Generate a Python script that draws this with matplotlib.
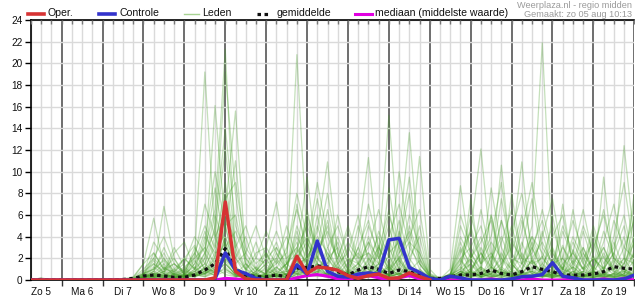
import numpy as np
import pandas as pd
import matplotlib
matplotlib.use("Agg")
import matplotlib.pyplot as plt
import matplotlib.dates as mdates
from matplotlib.ticker import FuncFormatter
from matplotlib.lines import Line2D

plt.rcParams['font.family'] = ['Liberation Sans', 'DejaVu Sans']

# ---------------- data ----------------
start_time = "2018-08-05 06:00"
n_steps = 60
step = "6h"
day_labels = ["Zo 5", "Ma 6", "Di 7", "Wo 8", "Do 9", "Vr 10", "Za 11", "Zo 12",
              "Ma 13", "Di 14", "Wo 15", "Do 16", "Vr 17", "Za 18", "Zo 19"]
y_ticks = [0, 2, 4, 6, 8, 10, 12, 14, 16, 18, 20, 22, 24]

oper = [0, 0, 0, 0, 0, 0, 0, 0, 0, 0,
        0, 0, 0, 0, 0, 0, 0, 0, 0.2, 7.2,
        0.8, 0.1, 0, 0, 0, 0, 2.2, 0.6, 1.2, 1.1,
        0.9, 0.4, 0.15, 0.4, 0.55, 0.15, 0.2, 0.65, 0.3, 0.0]

controle = [0, 0, 0, 0, 0, 0, 0, 0, 0, 0,
            0, 0, 0, 0, 0, 0, 0, 0, 0.1, 2.5,
            0.9, 0.6, 0.15, 0, 0, 0, 1.4, 0.55, 3.6, 0.8,
            0.35, 0.25, 0.55, 0.65, 0.55, 3.7, 3.85, 1.15, 0.7, 0.15,
            0, 0.35, 0.2, 0, 0, 0, 0, 0.1, 0.3, 0.35,
            0.5, 1.6, 0.35, 0.2, 0, 0, 0, 0, 0.1, 0.45]

gemiddelde = [0, 0.05, 0, 0, 0, 0, 0, 0, 0, 0.05,
              0.15, 0.37, 0.46, 0.37, 0.25, 0.25, 0.46, 0.92, 1.5, 2.9,
              1.0, 0.46, 0.3, 0.3, 0.46, 0.3, 1.08, 1.17, 1.3, 1.2,
              0.77, 0.46, 0.92, 1.23, 0.98, 0.6, 0.92, 0.77, 0.46, 0.15,
              0.15, 0.3, 0.46, 0.46, 0.6, 0.92, 0.6, 0.46, 0.77, 1.23,
              0.98, 0.77, 0.46, 0.46, 0.46, 0.55, 0.77, 1.23, 1.08, 1.0]

mediaan = [0, 0, 0, 0, 0, 0, 0, 0, 0, 0,
           0, 0, 0, 0, 0, 0, 0, 0, 0, 0.15,
           0.1, 0, 0, 0, 0, 0, 0.2, 0.4, 0.5, 0.35,
           0.1, 0, 0.35, 0.4, 0.2, 0, 0.2, 0.4, 0.1, 0,
           0, 0, 0, 0, 0, 0.1, 0, 0, 0, 0.1,
           0, 0, 0, 0.1, 0, 0, 0.1, 0, 0.15, 0]

leden = [
    [0, 0, 0, 0, 0, 0, 0, 0, 0, 0,
     0, 0.3, 1.2, 0.5, 0.2, 0.4, 1.5, 3.0, 6.5, 21.3,
     2.0, 0.5, 0, 0.3, 1.2, 0.4, 2.5, 4.0, 1.5, 0.8,
     0.2, 0, 1.0, 2.5, 0.6, 0.3, 1.8, 0.5, 0.2, 0,
     0, 0, 0.5, 1.5, 0.3, 2.2, 0.8, 0.4, 1.0, 3.5,
     1.2, 0.3, 0.1, 0.5, 2.0, 0.6, 0.3, 1.5, 4.0, 0.8],
    [0, 0, 0, 0, 0, 0, 0, 0, 0, 0.1,
     0.3, 1.5, 2.5, 1.0, 0.4, 0.8, 2.2, 19.2, 4.0, 1.5,
     0.5, 0.2, 0.8, 2.0, 0.4, 0, 0.6, 5.5, 2.8, 1.2,
     0.3, 0.8, 3.0, 1.0, 0.2, 0.5, 4.5, 1.5, 0.3, 0.1,
     0, 0.2, 1.8, 0.6, 3.0, 1.2, 0.4, 0.2, 0.6, 1.8,
     0.5, 2.8, 0.8, 0.2, 0.1, 0.6, 2.5, 0.8, 0.3, 1.2],
    [0, 0.1, 0, 0, 0, 0, 0, 0, 0, 0,
     0, 0.2, 0.8, 2.0, 0.6, 0.3, 1.0, 2.5, 4.5, 19.2,
     8.0, 1.0, 0.3, 0, 0.5, 1.5, 3.5, 1.0, 6.0, 2.0,
     0.8, 0.3, 0.5, 1.8, 4.0, 1.2, 0.4, 2.0, 0.6, 0.2,
     0, 0.4, 0.2, 0.8, 0.3, 1.0, 5.5, 1.5, 0.5, 0.2,
     1.0, 0.4, 3.2, 0.8, 0.3, 0.1, 0.4, 1.8, 0.6, 2.5],
    [0, 0, 0, 0, 0, 0, 0, 0, 0, 0,
     0.1, 0.5, 0.3, 0.8, 1.5, 0.5, 0.3, 2.0, 16.1, 5.0,
     1.2, 0.4, 0.2, 0.6, 2.5, 0.8, 1.0, 2.2, 3.5, 0.6,
     0.2, 0.6, 1.5, 0.4, 2.8, 6.5, 1.8, 0.6, 0.3, 0,
     0, 0, 0.3, 2.5, 0.8, 0.3, 1.2, 4.0, 1.5, 0.6,
     0.3, 0.8, 0.4, 1.5, 0.6, 0.2, 0.5, 0.3, 1.0, 0.4],
    [0, 0, 0, 0, 0, 0, 0, 0, 0, 0,
     0, 0.2, 0.6, 0.3, 0.2, 0.6, 0.4, 1.2, 3.0, 6.5,
     15.6, 2.0, 0.6, 0.2, 0.4, 1.0, 4.5, 1.5, 0.5, 3.0,
     1.0, 0.3, 0.2, 0.6, 1.5, 0.4, 3.2, 8.0, 1.5, 0.2,
     0, 0.1, 0.6, 0.2, 0.5, 1.5, 0.4, 0.8, 2.5, 0.7,
     4.5, 1.0, 0.3, 0.1, 0.8, 2.0, 0.5, 0.2, 0.4, 0.6],
    [0, 0, 0, 0, 0, 0, 0, 0, 0, 0,
     0, 0.4, 1.8, 0.6, 0.3, 0.2, 0.8, 1.5, 4.0, 12.2,
     3.0, 0.8, 0.4, 1.2, 0.5, 0.2, 1.8, 0.6, 2.5, 5.0,
     1.2, 0.5, 0.8, 0.3, 1.0, 2.2, 0.6, 1.4, 0.4, 0.1,
     0.1, 0.3, 1.2, 0.4, 0.2, 0.8, 2.0, 0.5, 0.3, 1.0,
     2.2, 0.6, 0.3, 2.8, 1.0, 0.4, 0.2, 0.6, 1.5, 3.5],
    [0, 0, 0, 0, 0, 0, 0, 0, 0, 0,
     0, 0.1, 0.4, 1.2, 0.5, 0.3, 1.0, 0.6, 2.2, 4.5,
     11.0, 1.5, 0.3, 0.6, 1.8, 0.4, 0.2, 3.0, 1.0, 0.4,
     2.0, 0.6, 0.3, 1.5, 0.5, 3.8, 1.0, 0.3, 0.6, 0.1,
     0, 0.2, 0.8, 1.5, 0.6, 0.2, 0.5, 1.8, 0.6, 0.3,
     0.8, 0.3, 1.2, 0.5, 0.2, 1.0, 3.0, 0.8, 0.4, 0.2],
    [0, 0, 0, 0, 0, 0, 0, 0, 0, 0,
     0, 0.3, 0.5, 0.2, 0.6, 1.2, 0.4, 0.8, 1.5, 5.0,
     1.0, 0.3, 0.8, 2.5, 0.6, 1.5, 20.8, 3.5, 1.2, 0.5,
     0.3, 1.0, 0.4, 0.2, 0.8, 0.5, 1.2, 0.4, 0.2, 0,
     0, 0.3, 2.0, 0.5, 1.2, 0.4, 0.2, 0.6, 0.3, 0.8,
     0.3, 0.6, 2.0, 0.5, 0.2, 0.8, 0.3, 0.1, 0.6, 1.8],
    [0, 0, 0, 0, 0, 0, 0, 0, 0, 0,
     0, 0.2, 0.6, 1.5, 0.4, 0.2, 0.3, 0.8, 2.5, 3.0,
     0.6, 0.2, 0.4, 0.3, 0.8, 0.5, 1.5, 2.0, 4.5, 10.9,
     2.5, 0.6, 1.2, 3.5, 0.8, 0.4, 1.5, 0.5, 0.2, 0,
     0, 0.1, 0.4, 0.2, 1.0, 0.5, 2.5, 0.8, 0.3, 1.2,
     0.6, 1.5, 0.4, 0.2, 3.0, 0.8, 0.4, 0.2, 0.6, 0.3],
    [0, 0, 0, 0, 0, 0, 0, 0, 0, 0,
     0.2, 0.6, 0.3, 0.5, 0.2, 0.4, 0.6, 1.0, 0.8, 4.0,
     1.2, 0.5, 0.2, 0.4, 0.6, 0.3, 2.8, 1.5, 0.8, 2.0,
     0.6, 0.3, 4.0, 11.3, 2.0, 0.8, 0.4, 1.2, 0.6, 0.2,
     0.1, 0.5, 0.2, 0.8, 2.5, 0.6, 0.3, 1.5, 0.4, 0.2,
     0.5, 0.2, 0.6, 1.8, 0.5, 0.3, 1.0, 2.5, 0.8, 0.4],
    [0, 0, 0, 0, 0, 0, 0, 0, 0, 0,
     0, 0, 0.3, 0.6, 0.2, 0.5, 1.8, 0.6, 1.2, 2.5,
     0.8, 0.3, 0.6, 1.5, 0.4, 0.2, 1.0, 6.5, 2.0, 0.6,
     0.3, 0.8, 1.5, 0.6, 2.5, 15.2, 3.0, 0.8, 0.4, 0.1,
     0, 0.2, 0.6, 1.0, 0.3, 0.5, 0.2, 0.8, 3.5, 1.0,
     0.4, 0.2, 0.5, 0.3, 1.2, 0.4, 0.2, 0.6, 2.0, 0.5],
    [0, 0, 0, 0, 0, 0, 0, 0, 0, 0,
     0, 0.1, 0.2, 0.4, 0.8, 0.3, 0.6, 2.5, 0.8, 1.5,
     0.5, 1.5, 0.4, 0.2, 0.6, 0.8, 1.2, 0.4, 2.2, 0.8,
     0.4, 1.6, 0.5, 2.0, 0.6, 1.2, 4.0, 13.6, 2.5, 0.3,
     0.1, 0.3, 0.5, 2.0, 0.4, 0.8, 0.3, 0.2, 0.6, 1.8,
     0.6, 0.3, 1.5, 0.4, 0.2, 2.2, 0.6, 0.3, 0.5, 1.0],
    [0, 0, 0, 0, 0, 0, 0, 0, 0, 0,
     0.1, 0.3, 0.8, 0.3, 0.5, 1.0, 0.3, 0.6, 1.8, 3.5,
     0.8, 0.4, 1.2, 0.5, 0.3, 0.6, 0.8, 2.0, 0.6, 1.5,
     3.5, 0.8, 0.3, 0.6, 1.5, 0.4, 0.8, 2.5, 11.4, 1.0,
     0, 0.2, 0.8, 0.3, 0.6, 0.2, 1.0, 0.4, 0.2, 0.5,
     1.5, 0.5, 0.2, 0.8, 0.3, 1.2, 0.4, 0.2, 0.8, 0.3],
    [0, 0, 0, 0, 0, 0, 0, 0, 0, 0,
     0, 0.2, 0.5, 0.2, 0.3, 0.6, 1.2, 0.5, 1.0, 2.2,
     0.6, 0.3, 0.5, 1.0, 0.3, 0.5, 0.6, 1.2, 3.0, 0.8,
     0.4, 0.2, 1.0, 0.5, 3.2, 0.8, 2.0, 0.6, 0.4, 0.1,
     0, 0.3, 1.5, 4.5, 12.1, 2.5, 0.8, 0.3, 0.6, 0.4,
     1.0, 0.4, 0.2, 0.5, 0.3, 0.8, 2.2, 0.6, 0.3, 0.5],
    [0, 0, 0, 0, 0, 0, 0, 0, 0, 0,
     0, 0.4, 0.2, 0.6, 0.3, 0.2, 0.5, 0.8, 2.0, 1.0,
     0.4, 0.2, 0.3, 0.6, 3.0, 1.0, 0.5, 0.8, 1.5, 0.4,
     1.2, 0.5, 0.3, 0.8, 0.4, 1.5, 0.6, 0.3, 1.0, 0.2,
     0.2, 0.5, 0.3, 1.0, 2.5, 1.2, 10.6, 1.5, 0.4, 0.2,
     0.6, 1.8, 0.5, 0.2, 0.4, 0.2, 0.8, 3.5, 1.0, 0.4],
    [0, 0, 0, 0, 0, 0, 0, 0, 0, 0,
     0, 0.1, 0.3, 0.8, 0.2, 0.4, 0.8, 1.5, 0.6, 2.8,
     0.5, 0.2, 0.4, 0.3, 0.5, 0.2, 1.2, 0.4, 0.6, 2.5,
     0.8, 0.3, 0.6, 0.2, 1.0, 0.5, 0.3, 0.8, 1.8, 0.3,
     0.1, 0.4, 2.8, 0.8, 0.3, 0.6, 1.5, 3.0, 10.9, 1.5,
     0.4, 0.2, 0.6, 1.2, 0.4, 0.2, 0.5, 1.0, 0.4, 6.0],
    [0, 0, 0, 0, 0, 0, 0, 0, 0, 0,
     0, 0.2, 0.4, 0.2, 0.6, 0.3, 0.4, 0.6, 1.2, 0.5,
     0.3, 0.6, 0.2, 0.5, 1.2, 0.4, 0.3, 1.0, 0.5, 0.3,
     0.6, 0.2, 0.4, 1.2, 0.5, 0.3, 0.6, 0.4, 0.8, 0.1,
     0, 0.2, 0.5, 0.3, 1.2, 0.5, 0.8, 0.3, 1.5, 5.0,
     21.9, 2.5, 0.6, 0.3, 0.8, 0.4, 1.2, 0.5, 0.3, 0.6],
    [0, 0, 0, 0, 0, 0, 0, 0, 0, 0,
     0, 0, 0.2, 0.4, 0.2, 0.3, 0.6, 0.4, 0.8, 1.8,
     0.4, 0.2, 0.5, 0.2, 0.4, 0.8, 0.3, 0.6, 1.5, 0.4,
     0.2, 0.5, 0.8, 0.3, 0.6, 1.2, 0.4, 0.6, 0.3, 0,
     0, 0.1, 0.4, 0.8, 0.3, 1.2, 0.5, 0.3, 0.6, 0.8,
     0.4, 0.3, 1.0, 0.6, 2.5, 0.8, 0.5, 2.0, 12.4, 3.5],
    [0, 0.2, 0, 0, 0, 0, 0, 0, 0, 0,
     0.2, 1.5, 5.7, 1.2, 0.5, 0.3, 0.8, 0.5, 1.5, 3.5,
     0.6, 0.3, 0.2, 0.5, 0.3, 0.6, 1.0, 0.4, 0.8, 0.3,
     0.5, 0.2, 0.6, 0.3, 1.0, 0.4, 0.2, 0.8, 0.5, 0.1,
     0, 0.2, 0.6, 0.3, 0.8, 6.0, 1.2, 0.5, 0.3, 0.6,
     0.3, 0.8, 0.4, 1.2, 0.5, 0.3, 0.6, 0.4, 0.2, 0.5],
    [0, 0, 0, 0, 0, 0, 0, 0, 0, 0,
     0.1, 0.6, 1.0, 6.8, 2.0, 0.5, 0.3, 1.2, 0.6, 2.0,
     0.8, 0.3, 0.5, 0.2, 0.4, 0.3, 0.8, 1.5, 0.5, 0.6,
     0.3, 0.6, 0.2, 0.5, 0.8, 0.3, 0.6, 1.0, 0.3, 0,
     0, 0.3, 0.8, 0.5, 0.2, 0.6, 1.0, 0.4, 0.8, 3.0,
     0.8, 0.3, 0.5, 0.2, 0.6, 4.5, 0.8, 0.3, 0.2, 0.4],
    [0, 0, 0, 0, 0, 0, 0, 0, 0, 0,
     0, 0.3, 0.6, 0.4, 1.0, 2.0, 3.2, 0.8, 0.4, 1.2,
     0.3, 0.8, 2.5, 3.0, 7.2, 1.5, 0.6, 0.3, 0.8, 0.5,
     1.5, 0.4, 0.3, 0.8, 0.3, 0.5, 2.2, 0.6, 0.3, 0.1,
     0, 0.1, 0.3, 0.6, 0.3, 0.2, 0.5, 0.3, 0.8, 0.4,
     0.2, 0.5, 0.3, 0.8, 0.4, 0.2, 0.6, 0.3, 1.0, 0.5],
    [0, 0, 0, 0, 0, 0, 0, 0, 0, 0,
     0, 0.2, 0.4, 0.8, 0.5, 0.3, 0.6, 1.0, 0.4, 0.8,
     0.3, 0.5, 0.2, 0.4, 0.2, 0.5, 0.6, 0.3, 0.5, 0.2,
     0.8, 2.0, 0.6, 0.4, 0.3, 0.6, 0.2, 0.5, 0.8, 0.2,
     0.1, 1.0, 8.7, 2.0, 0.6, 0.3, 0.5, 0.8, 0.3, 2.0,
     0.5, 0.3, 0.8, 6.5, 1.5, 0.5, 0.3, 0.6, 0.4, 0.8],
    [0, 0, 0, 0, 0, 0, 0, 0, 0, 0,
     0, 0, 0.2, 0.3, 0.2, 0.5, 0.3, 0.6, 1.0, 2.0,
     0.8, 0.3, 0.2, 0.5, 0.3, 0.2, 0.5, 1.0, 0.4, 0.3,
     0.2, 0.6, 0.3, 0.5, 0.6, 1.0, 0.5, 0.3, 0.2, 0,
     0, 0.2, 0.5, 0.8, 0.3, 1.2, 0.6, 8.0, 2.0, 0.5,
     0.3, 0.6, 0.2, 0.4, 0.8, 0.3, 9.5, 1.2, 0.4, 0.3],
    [0, 0, 0, 0, 0, 0, 0, 0, 0, 0,
     0, 0.1, 0.3, 0.2, 0.4, 0.2, 0.5, 0.3, 0.6, 1.0,
     0.4, 0.2, 0.3, 0.8, 0.5, 0.3, 0.8, 0.5, 0.3, 0.6,
     0.3, 0.2, 0.5, 1.0, 0.4, 0.3, 0.6, 0.3, 0.8, 0.2,
     0.1, 0.6, 0.3, 7.5, 1.0, 0.4, 0.6, 0.3, 0.5, 0.8,
     0.3, 6.0, 1.0, 0.4, 0.3, 0.6, 0.2, 0.4, 1.5, 8.0],
    [0, 0, 0, 0, 0, 0, 0, 0, 0, 0,
     0, 0.2, 0.6, 0.4, 0.3, 0.8, 0.5, 0.3, 0.8, 1.5,
     0.5, 0.3, 0.6, 0.2, 0.4, 0.6, 2.0, 0.8, 1.0, 0.5,
     0.4, 0.8, 0.3, 0.6, 1.2, 0.4, 0.6, 0.3, 0.5, 0,
     0, 0.3, 0.8, 0.4, 0.6, 0.3, 0.5, 1.0, 0.4, 0.3,
     0.6, 0.4, 7.0, 1.0, 0.4, 0.8, 0.3, 0.5, 0.8, 0.3],
    [0, 0, 0, 0, 0, 0, 0, 0, 0, 0,
     0, 0.5, 3.5, 2.0, 0.8, 1.5, 4.0, 2.5, 8.5, 3.0,
     4.5, 2.0, 1.0, 0.5, 2.0, 4.0, 1.5, 6.0, 3.0, 8.0,
     2.5, 1.0, 3.0, 5.5, 2.0, 4.0, 7.0, 3.0, 1.5, 0.3,
     0, 0.5, 3.0, 1.5, 6.5, 2.0, 4.0, 1.5, 3.0, 7.5,
     2.0, 1.0, 4.5, 2.0, 1.0, 3.0, 6.0, 2.0, 1.5, 4.0],
    [0, 0, 0, 0, 0, 0, 0, 0, 0, 0,
     0.2, 1.0, 2.0, 4.0, 1.5, 0.8, 2.5, 5.0, 3.0, 9.0,
     3.0, 5.0, 2.0, 1.5, 3.5, 1.0, 5.0, 2.5, 7.5, 3.0,
     5.0, 2.0, 1.5, 3.0, 6.5, 2.5, 3.5, 9.5, 2.0, 0.5,
     0.1, 0.3, 5.0, 2.5, 1.0, 8.5, 3.0, 1.0, 5.5, 2.0,
     3.5, 1.5, 2.0, 5.5, 2.5, 1.0, 3.5, 7.0, 2.0, 1.5],
    [0, 0, 0, 0, 0, 0, 0, 0, 0, 0,
     0, 0.3, 1.5, 0.8, 3.0, 1.2, 2.0, 7.0, 4.0, 6.0,
     2.0, 1.0, 3.5, 0.8, 1.5, 2.5, 8.0, 4.0, 2.0, 5.5,
     1.5, 3.5, 2.0, 7.0, 3.0, 1.5, 5.5, 2.0, 4.0, 0.2,
     0, 0.2, 1.5, 6.0, 2.5, 1.0, 3.5, 6.5, 2.0, 4.0,
     1.5, 3.0, 1.0, 2.5, 6.5, 2.0, 1.0, 4.0, 9.0, 2.5],
    [0, 0, 0, 0, 0, 0, 0, 0, 0, 0,
     0.1, 0.6, 1.0, 2.5, 0.6, 2.0, 1.0, 3.5, 10.0, 5.0,
     6.0, 1.5, 0.8, 2.0, 4.5, 2.0, 3.0, 1.5, 5.0, 2.0,
     3.0, 1.0, 5.0, 2.0, 1.0, 8.5, 2.5, 4.5, 1.5, 0.3,
     0.1, 0.6, 2.0, 3.0, 5.0, 1.5, 7.5, 2.5, 1.0, 3.0,
     5.5, 2.0, 1.0, 3.5, 1.5, 5.0, 2.0, 1.0, 3.0, 5.5],
    [0, 0, 0, 0, 0, 0, 0, 0, 0, 0,
     0, 0.4, 2.5, 1.0, 2.0, 0.5, 3.0, 1.5, 5.0, 14.0,
     5.0, 2.5, 1.0, 0.5, 1.0, 3.0, 6.5, 3.0, 9.0, 4.0,
     2.0, 4.5, 1.5, 3.5, 2.0, 5.0, 1.5, 6.0, 3.0, 0.4,
     0, 0.3, 4.0, 2.0, 3.5, 5.5, 1.5, 4.5, 8.0, 3.0,
     1.0, 4.0, 6.0, 1.5, 3.0, 1.0, 4.5, 2.0, 1.0, 3.5],
    [0, 0, 0, 0, 0, 0, 0, 0, 0, 0,
     0, 0.2, 0.8, 3.0, 1.0, 0.4, 1.5, 4.5, 2.0, 7.5,
     9.0, 3.0, 1.5, 2.5, 0.8, 1.5, 2.5, 9.5, 2.0, 1.0,
     4.0, 1.5, 2.5, 1.0, 4.5, 2.0, 10.0, 3.5, 2.5, 0.3,
     0.1, 0.4, 1.0, 5.0, 1.5, 3.5, 2.0, 1.0, 4.5, 9.0,
     3.0, 1.5, 5.0, 2.5, 1.0, 2.0, 1.0, 5.5, 3.0, 2.0],
    [0, 0, 0, 0, 0, 0, 0, 0, 0, 0,
     0.1, 0.8, 1.5, 0.6, 2.5, 3.5, 1.0, 2.0, 6.0, 3.0,
     2.0, 4.0, 1.0, 3.0, 1.5, 5.0, 2.0, 3.5, 1.5, 6.5,
     1.5, 2.5, 6.0, 1.5, 3.0, 1.0, 2.5, 4.0, 6.5, 0.6,
     0.2, 0.5, 3.5, 1.0, 2.0, 4.0, 9.0, 2.0, 1.5, 2.5,
     6.5, 2.5, 1.0, 4.0, 2.0, 3.5, 1.0, 2.5, 5.0, 1.0],
    [0, 0, 0, 0, 0, 0, 0, 0, 0, 0,
     0, 0.3, 1.0, 1.8, 0.5, 1.0, 2.5, 1.0, 3.5, 8.0,
     2.5, 1.0, 2.0, 4.5, 2.5, 1.0, 4.0, 2.0, 3.0, 1.5,
     6.0, 2.0, 1.0, 4.0, 1.5, 3.0, 1.0, 5.0, 2.0, 0.2,
     0, 0.3, 6.0, 3.0, 1.5, 2.5, 1.0, 3.5, 2.0, 1.5,
     4.0, 7.5, 2.0, 1.0, 4.5, 1.5, 3.0, 1.0, 2.0, 7.0],
    [0, 0, 0, 0, 0, 0, 0, 0, 0, 0,
     0, 0.5, 2.0, 1.0, 1.5, 0.6, 2.0, 3.0, 1.5, 4.0,
     1.5, 2.5, 5.0, 2.0, 3.0, 1.5, 3.0, 5.0, 2.5, 4.5,
     2.0, 5.0, 2.0, 2.5, 1.5, 6.0, 3.0, 1.5, 5.0, 0.5,
     0.1, 0.2, 2.5, 4.5, 1.5, 6.0, 2.0, 5.0, 1.5, 4.0,
     2.5, 1.0, 3.0, 1.5, 5.0, 2.5, 6.5, 2.0, 1.0, 2.5],
    [0, 0, 0, 0, 0, 0, 0, 0, 0, 0,
     0, 0.2, 0.5, 1.0, 0.8, 2.0, 1.0, 4.0, 2.5, 6.0,
     3.5, 1.0, 0.6, 1.5, 2.0, 0.8, 7.0, 2.0, 4.0, 2.5,
     1.0, 3.0, 1.5, 5.0, 2.5, 1.0, 2.0, 3.5, 1.0, 0.2,
     0, 0.5, 1.0, 2.0, 4.0, 1.5, 5.5, 2.5, 6.0, 1.5,
     2.0, 5.0, 1.5, 2.5, 1.0, 4.0, 1.5, 3.0, 6.0, 1.5],
]

# ---------------- colours ----------------
c_oper = "#d63333"
c_ctrl = "#3333cc"
c_leden = "#3f9a1f"
c_mean = "#111111"
c_med = "#e000e0"
c_grid = "#dadada"
c_day = "#555555"

times = pd.date_range(start_time, periods=n_steps, freq=step)

W, H = 635, 300
fig = plt.figure(figsize=(W / 100, H / 100), dpi=100)
ax = fig.add_axes([31 / W, 20 / H, 603.3 / W, 260 / H])

for member in leden:
    ax.plot(times, member, color=c_leden, lw=0.9, alpha=0.3, zorder=2)
ax.plot(times, mediaan, color=c_med, lw=2.2, zorder=3, solid_capstyle='butt')
ax.plot(times, gemiddelde, color=c_mean, lw=2.3, dashes=(1.1, 1.1), zorder=4)
ax.plot(times, controle, color=c_ctrl, lw=2.5, zorder=5)
ax.plot(times[:len(oper)], oper, color=c_oper, lw=2.5, zorder=6)

ax.set_xlim(times[0], times[-1])
ax.set_ylim(0, 24)

# x axis: day boundaries (major), 6-hour grid (minor), labels at noon
ax.xaxis.set_major_locator(mdates.DayLocator())
ax.xaxis.set_minor_locator(mdates.HourLocator(byhour=[6, 12, 18]))
ax.xaxis.set_major_formatter(FuncFormatter(lambda v, p: ""))
noon_pos = [mdates.date2num(pd.Timestamp(times[0].date()) + pd.Timedelta(days=k, hours=12))
            for k in range(len(day_labels))]
lab_map = {round(p, 4): l for p, l in zip(noon_pos, day_labels)}
ax.xaxis.set_minor_formatter(FuncFormatter(lambda v, p: lab_map.get(round(v, 4), "")))
ax.grid(True, which='minor', axis='x', color=c_grid, lw=1.0, zorder=0)
ax.grid(True, which='major', axis='x', color=c_day, lw=1.2, zorder=1)
ax.set_yticks(y_ticks)
ax.grid(True, which='major', axis='y', color=c_grid, lw=1.0, zorder=0)
ax.set_axisbelow(True)

ax.tick_params(axis='x', which='major', length=4, width=1, color='#333333', direction='out')
ax.tick_params(axis='x', which='minor', length=0, pad=5, labelsize=7.2, labelcolor='#111111')
ax.tick_params(axis='y', which='major', length=4, width=1, pad=2, labelsize=7.2,
               labelcolor='#111111', direction='out')

for s in ['left', 'bottom', 'top']:
    ax.spines[s].set_color('#000000')
    ax.spines[s].set_linewidth(1.2)
ax.spines['right'].set_visible(False)

# top inward ticks every 6 hours
ax2 = ax.twiny()
ax2.set_xlim(ax.get_xlim())
ax2.xaxis.set_major_locator(mdates.HourLocator(byhour=[0, 6, 12, 18]))
ax2.tick_params(axis='x', direction='in', length=3, width=1, color='#777777', labeltop=False)
ax2.xaxis.set_major_formatter(FuncFormatter(lambda v, p: ""))
for s in ax2.spines.values():
    s.set_visible(False)

# legend (manual, in pixel positions of the header)
def fy(py):
    return 1 - py / H

def fx(px):
    return px / W

legend_items = [
    (28, 44, 47.5, "Oper.", dict(color=c_oper, lw=2.6)),
    (99, 115, 119, "Controle", dict(color=c_ctrl, lw=2.6)),
    (184, 199, 202.5, "Leden", dict(color="#a8d393", lw=1.0)),
    (257, 271, 276.5, "gemiddelde", dict(color=c_mean, lw=2.3, dashes=(1.1, 1.1))),
]
for x0, x1, xt, txt, st in legend_items:
    fig.add_artist(Line2D([fx(x0), fx(x1)], [fy(13.5), fy(13.5)], transform=fig.transFigure, **st))
    fig.text(fx(xt), fy(13.5), txt, fontsize=7.6, va='center', ha='left', color='#111111')
fig.add_artist(Line2D([fx(355), fx(368)], [fy(13.5), fy(13.5)], transform=fig.transFigure,
                      color=c_med, lw=2.2))
fig.add_artist(Line2D([fx(370.5), fx(371.5)], [fy(13.5), fy(13.5)], transform=fig.transFigure,
                      color=c_med, lw=2.2))
fig.text(fx(375), fy(13.5), "mediaan (middelste waarde)", fontsize=7.6, va='center',
         ha='left', color='#111111')

fig.text(fx(632), fy(5), "Weerplaza.nl - regio midden", fontsize=6.6, va='center',
         ha='right', color='#9a9a9a')
fig.text(fx(632), fy(14.5), "Gemaakt: zo 05 aug 10:13", fontsize=6.6, va='center',
         ha='right', color='#9a9a9a')

fig.savefig("out.png", dpi=100)
